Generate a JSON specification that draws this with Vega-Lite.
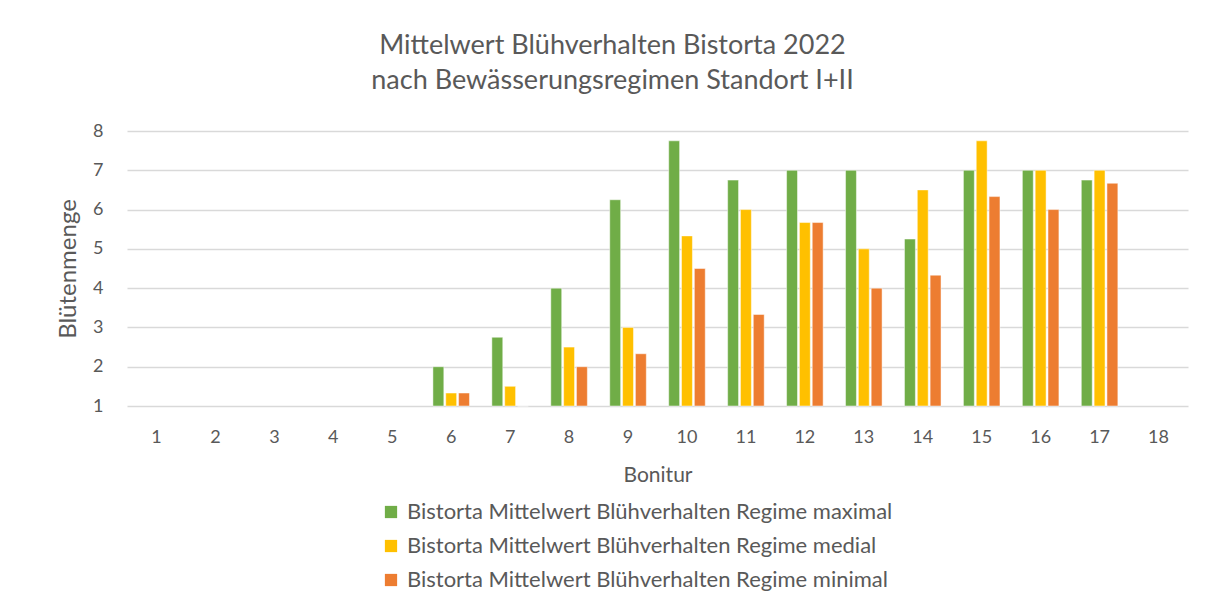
{
  "$schema": "https://vega.github.io/schema/vega-lite/v6.json",
  "width": 1061,
  "height": 275,
  "autosize": {"type": "none"},
  "padding": {"left": 127, "top": 131, "right": 29, "bottom": 202},
  "background": "white",
  "title": {
    "text": ["Mittelwert Blühverhalten Bistorta 2022", "nach Bewässerungsregimen Standort I+II"],
    "anchor": "middle",
    "frame": "group",
    "dx": -45,
    "offset": 27,
    "font": "Lato",
    "fontSize": 27,
    "fontWeight": "normal",
    "color": "#595959",
    "lineHeight": 35
  },
  "data": {
    "values": [
      {"Bonitur": "6", "Regime": "Bistorta Mittelwert Blühverhalten Regime maximal", "Wert": 2},
      {"Bonitur": "6", "Regime": "Bistorta Mittelwert Blühverhalten Regime medial", "Wert": 1.33},
      {"Bonitur": "6", "Regime": "Bistorta Mittelwert Blühverhalten Regime minimal", "Wert": 1.33},
      {"Bonitur": "7", "Regime": "Bistorta Mittelwert Blühverhalten Regime maximal", "Wert": 2.75},
      {"Bonitur": "7", "Regime": "Bistorta Mittelwert Blühverhalten Regime medial", "Wert": 1.5},
      {"Bonitur": "7", "Regime": "Bistorta Mittelwert Blühverhalten Regime minimal", "Wert": 1},
      {"Bonitur": "8", "Regime": "Bistorta Mittelwert Blühverhalten Regime maximal", "Wert": 4},
      {"Bonitur": "8", "Regime": "Bistorta Mittelwert Blühverhalten Regime medial", "Wert": 2.5},
      {"Bonitur": "8", "Regime": "Bistorta Mittelwert Blühverhalten Regime minimal", "Wert": 2},
      {"Bonitur": "9", "Regime": "Bistorta Mittelwert Blühverhalten Regime maximal", "Wert": 6.25},
      {"Bonitur": "9", "Regime": "Bistorta Mittelwert Blühverhalten Regime medial", "Wert": 3},
      {"Bonitur": "9", "Regime": "Bistorta Mittelwert Blühverhalten Regime minimal", "Wert": 2.33},
      {"Bonitur": "10", "Regime": "Bistorta Mittelwert Blühverhalten Regime maximal", "Wert": 7.75},
      {"Bonitur": "10", "Regime": "Bistorta Mittelwert Blühverhalten Regime medial", "Wert": 5.33},
      {"Bonitur": "10", "Regime": "Bistorta Mittelwert Blühverhalten Regime minimal", "Wert": 4.5},
      {"Bonitur": "11", "Regime": "Bistorta Mittelwert Blühverhalten Regime maximal", "Wert": 6.75},
      {"Bonitur": "11", "Regime": "Bistorta Mittelwert Blühverhalten Regime medial", "Wert": 6},
      {"Bonitur": "11", "Regime": "Bistorta Mittelwert Blühverhalten Regime minimal", "Wert": 3.33},
      {"Bonitur": "12", "Regime": "Bistorta Mittelwert Blühverhalten Regime maximal", "Wert": 7},
      {"Bonitur": "12", "Regime": "Bistorta Mittelwert Blühverhalten Regime medial", "Wert": 5.67},
      {"Bonitur": "12", "Regime": "Bistorta Mittelwert Blühverhalten Regime minimal", "Wert": 5.67},
      {"Bonitur": "13", "Regime": "Bistorta Mittelwert Blühverhalten Regime maximal", "Wert": 7},
      {"Bonitur": "13", "Regime": "Bistorta Mittelwert Blühverhalten Regime medial", "Wert": 5},
      {"Bonitur": "13", "Regime": "Bistorta Mittelwert Blühverhalten Regime minimal", "Wert": 4},
      {"Bonitur": "14", "Regime": "Bistorta Mittelwert Blühverhalten Regime maximal", "Wert": 5.25},
      {"Bonitur": "14", "Regime": "Bistorta Mittelwert Blühverhalten Regime medial", "Wert": 6.5},
      {"Bonitur": "14", "Regime": "Bistorta Mittelwert Blühverhalten Regime minimal", "Wert": 4.33},
      {"Bonitur": "15", "Regime": "Bistorta Mittelwert Blühverhalten Regime maximal", "Wert": 7},
      {"Bonitur": "15", "Regime": "Bistorta Mittelwert Blühverhalten Regime medial", "Wert": 7.75},
      {"Bonitur": "15", "Regime": "Bistorta Mittelwert Blühverhalten Regime minimal", "Wert": 6.33},
      {"Bonitur": "16", "Regime": "Bistorta Mittelwert Blühverhalten Regime maximal", "Wert": 7},
      {"Bonitur": "16", "Regime": "Bistorta Mittelwert Blühverhalten Regime medial", "Wert": 7},
      {"Bonitur": "16", "Regime": "Bistorta Mittelwert Blühverhalten Regime minimal", "Wert": 6},
      {"Bonitur": "17", "Regime": "Bistorta Mittelwert Blühverhalten Regime maximal", "Wert": 6.75},
      {"Bonitur": "17", "Regime": "Bistorta Mittelwert Blühverhalten Regime medial", "Wert": 7},
      {"Bonitur": "17", "Regime": "Bistorta Mittelwert Blühverhalten Regime minimal", "Wert": 6.67}
    ]
  },
  "mark": {"type": "bar", "stroke": "white", "strokeWidth": 0.8, "strokeOpacity": 0.6},
  "encoding": {
    "x": {
      "field": "Bonitur",
      "type": "ordinal",
      "sort": null,
      "scale": {
        "domain": ["1", "2", "3", "4", "5", "6", "7", "8", "9", "10", "11", "12", "13", "14", "15", "16", "17", "18"],
        "paddingInner": 0.38,
        "paddingOuter": 0.19
      },
      "axis": {
        "title": "Bonitur",
        "labelAngle": 0,
        "domain": false,
        "ticks": false,
        "labelPadding": 22,
        "labelFontSize": 18,
        "labelFont": "Lato",
        "labelColor": "#595959",
        "titleFont": "Lato",
        "titleFontSize": 21,
        "titleFontWeight": "normal",
        "titleColor": "#595959",
        "titlePadding": 18
      }
    },
    "xOffset": {
      "field": "Regime",
      "type": "nominal",
      "scale": {"paddingInner": 0.15, "paddingOuter": 0}
    },
    "y": {
      "field": "Wert",
      "type": "quantitative",
      "scale": {"domain": [1, 8], "zero": false, "nice": false},
      "axis": {
        "title": "Blütenmenge",
        "values": [1, 2, 3, 4, 5, 6, 7, 8],
        "domain": false,
        "ticks": false,
        "grid": true,
        "gridColor": "#d9d9d9",
        "gridWidth": 1.5,
        "labelPadding": 24,
        "labelFontSize": 18,
        "labelFont": "Lato",
        "labelColor": "#595959",
        "titleFont": "Lato",
        "titleFontSize": 24,
        "titleFontWeight": "normal",
        "titleColor": "#595959",
        "titlePadding": 12
      }
    },
    "y2": {"datum": 1},
    "color": {
      "field": "Regime",
      "type": "nominal",
      "scale": {
        "domain": [
          "Bistorta Mittelwert Blühverhalten Regime maximal",
          "Bistorta Mittelwert Blühverhalten Regime medial",
          "Bistorta Mittelwert Blühverhalten Regime minimal"
        ],
        "range": ["#70AD47", "#FFC000", "#ED7D31"]
      },
      "legend": {
        "title": null,
        "orient": "none",
        "legendX": 253,
        "legendY": 370,
        "direction": "vertical",
        "symbolType": "square",
        "symbolSize": 150,
        "symbolStrokeWidth": 0,
        "labelFont": "Lato",
        "labelFontSize": 22,
        "labelColor": "#595959",
        "rowPadding": 12,
        "labelOffset": 5,
        "labelLimit": 800
      }
    }
  },
  "config": {
    "view": {"stroke": null}
  }
}
